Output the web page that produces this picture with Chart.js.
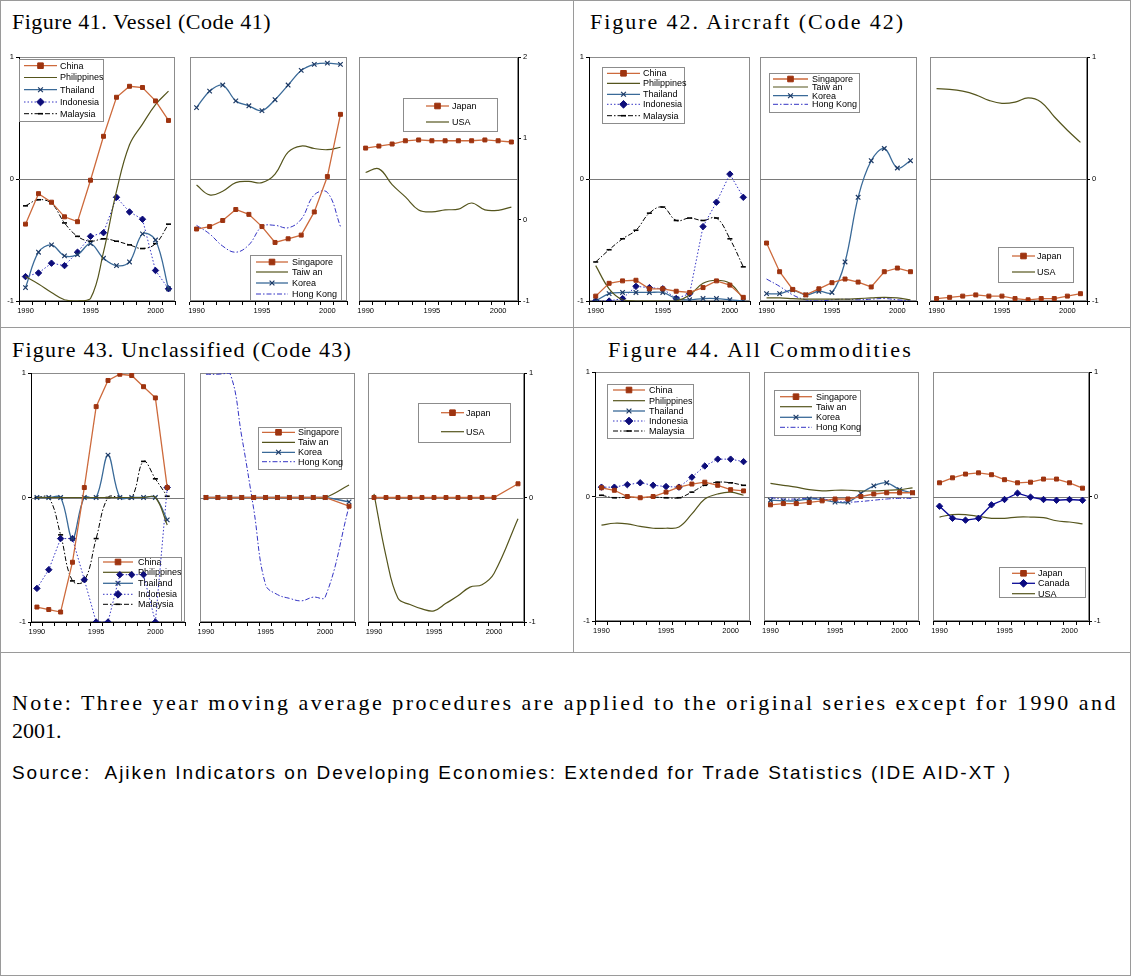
<!DOCTYPE html>
<html>
<head>
<meta charset="utf-8">
<script src="https://cdn.jsdelivr.net/npm/chart.js@4/dist/chart.umd.min.js"></script>
<style>
  html, body { margin: 0; padding: 0; background: #fff; }
  #page { position: relative; width: 1133px; height: 976px; overflow: hidden; background: #fff; }
  .rule { position: absolute; background: #9a9a9a; }
  .txt { position: absolute; white-space: nowrap; color: #000; }
  .serif { font-family: "Liberation Serif", "Times New Roman", serif; font-size: 22px; line-height: 22px; }
  .sans { font-family: "Liberation Sans", Arial, sans-serif; font-size: 19px; line-height: 19px; }
  canvas { position: absolute; }
</style>
</head>
<body>
<div id="page">
  <div class="rule" style="left:0;top:0;width:1131px;height:1px"></div>
  <div class="rule" style="left:0;top:975px;width:1131px;height:1px"></div>
  <div class="rule" style="left:0;top:0;width:1px;height:976px"></div>
  <div class="rule" style="left:1130px;top:0;width:1px;height:976px"></div>
  <div class="rule" style="left:573px;top:0;width:1px;height:652px"></div>
  <div class="rule" style="left:0;top:327px;width:1131px;height:1px"></div>
  <div class="rule" style="left:0;top:652px;width:1131px;height:1px"></div>

  <div class="txt serif" data-w="259" style="left:12px;top:11px">Figure 41. Vessel (Code 41)</div>
  <div class="txt serif" data-w="315" style="left:590px;top:11px">Figure 42. Aircraft (Code 42)</div>
  <div class="txt serif" data-w="340" style="left:12px;top:339px">Figure 43. Unclassified (Code 43)</div>
  <div class="txt serif" data-w="305" style="left:608px;top:339px">Figure 44. All Commodities</div>

  <div class="txt serif" data-w="1106" style="left:12px;top:692px">Note: Three year moving average procedures are applied to the original series except for 1990 and</div>
  <div class="txt serif" style="left:12px;top:720px">2001.</div>
  <div class="txt sans" data-w="1000" style="left:12px;top:763px">Source:&nbsp; Ajiken Indicators on Developing Economies: Extended for Trade Statistics (IDE AID-XT )</div>
</div>

<script>
// ---- categories and axis labels ----
const years = ['1990','1991','1992','1993','1994','1995','1996','1997','1998','1999','2000','2001'];
const years43 = ['1990','1991','1992','1993','1994','1995','1996','1997','1998','1999','2000','2001','2002'];
const xTickLabels = ['1990','1995','2000'];

// ---- Figure 41. Vessel (Code 41) ----
const vesselChina       = [-0.37,-0.12,-0.19,-0.31,-0.35,-0.01,0.35,0.67,0.76,0.75,0.64,0.48];
const vesselPhilippines = [-0.80,-0.86,-0.93,-0.99,-1.00,-0.98,-0.60,-0.10,0.28,0.45,0.61,0.72];
const vesselThailand    = [-0.89,-0.60,-0.54,-0.63,-0.62,-0.53,-0.65,-0.71,-0.68,-0.45,-0.50,-0.90];
const vesselIndonesia   = [-0.80,-0.77,-0.69,-0.71,-0.60,-0.47,-0.44,-0.15,-0.27,-0.33,-0.75,-0.90];
const vesselMalaysia    = [-0.22,-0.17,-0.20,-0.36,-0.47,-0.51,-0.49,-0.51,-0.54,-0.57,-0.53,-0.37];
const vesselSingapore   = [-0.41,-0.39,-0.34,-0.25,-0.29,-0.39,-0.52,-0.49,-0.46,-0.27,0.02,0.53];
const vesselTaiwan      = [-0.05,-0.13,-0.10,-0.03,-0.02,-0.03,0.04,0.22,0.27,0.25,0.24,0.26];
const vesselKorea       = [0.585,0.72,0.77,0.64,0.60,0.56,0.65,0.77,0.89,0.94,0.95,0.94];
const vesselHongKong    = [-0.38,-0.45,-0.55,-0.60,-0.54,-0.39,-0.38,-0.40,-0.33,-0.13,-0.11,-0.39];
const vesselJapan       = [0.88,0.905,0.93,0.97,0.98,0.97,0.97,0.97,0.97,0.98,0.97,0.955];
const vesselUSA         = [0.58,0.625,0.43,0.28,0.12,0.095,0.12,0.13,0.205,0.12,0.115,0.155];

// ---- Figure 42. Aircraft (Code 42) ----
const aircraftChina       = [-0.96,-0.855,-0.835,-0.83,-0.90,-0.90,-0.92,-0.93,-0.89,-0.835,-0.87,-0.97];
const aircraftPhilippines = [-0.71,-0.90,-0.99,-1.00,-1.00,-1.00,-1.00,-0.95,-0.855,-0.83,-0.855,-0.98];
const aircraftThailand    = [-1.00,-0.94,-0.93,-0.93,-0.93,-0.93,-0.98,-0.99,-0.98,-0.98,-0.99,-1.00];
const aircraftIndonesia   = [-1.00,-1.00,-0.98,-0.88,-0.89,-0.90,-0.98,-0.94,-0.39,-0.19,0.04,-0.15];
const aircraftMalaysia    = [-0.68,-0.58,-0.49,-0.42,-0.28,-0.23,-0.34,-0.32,-0.34,-0.32,-0.49,-0.72];
const aircraftSingapore   = [-0.525,-0.76,-0.905,-0.95,-0.90,-0.85,-0.82,-0.845,-0.885,-0.76,-0.73,-0.76];
const aircraftTaiwan      = [-0.975,-0.975,-0.98,-0.985,-0.985,-0.985,-0.985,-0.98,-0.975,-0.97,-0.975,-0.99];
const aircraftKorea       = [-0.94,-0.94,-0.91,-0.95,-0.92,-0.93,-0.68,-0.15,0.15,0.25,0.09,0.15];
const aircraftHongKong    = [-0.82,-0.88,-0.95,-0.99,-1.00,-0.99,-0.985,-0.99,-0.985,-0.98,-0.99,-1.00];
const aircraftJapan       = [-0.98,-0.97,-0.96,-0.95,-0.96,-0.96,-0.98,-0.99,-0.98,-0.98,-0.96,-0.94];
const aircraftUSA         = [0.74,0.735,0.72,0.69,0.645,0.62,0.63,0.665,0.63,0.51,0.40,0.30];

// ---- Figure 43. Unclassified (Code 43) ----
const unclassChina       = [-0.88,-0.90,-0.92,-0.52,0.08,0.73,0.94,0.99,0.98,0.89,0.80,0.08];
const unclassPhilippines = [0,0,0,0,0,0,0,0,0,0,0,-0.22];
const unclassThailand    = [0,0,0,-0.33,0,0,0.34,0,0,0,0,-0.18];
const unclassIndonesia   = [-0.73,-0.58,-0.33,-0.33,-0.66,-1.00,-1.00,-0.62,-0.62,-0.62,-1.00,0.08];
const unclassMalaysia    = [0,0,-0.30,-0.67,-0.67,-0.33,0,0,0,0.29,0.15,0.01];
const unclassSingapore   = [0,0,0,0,0,0,0,0,0,0,0,null,-0.07];
const unclassTaiwan      = [0,0,0,0,0,0,0,0,0,0,0,null,0.10];
const unclassKorea       = [0,0,0,0,0,0,0,0,0,0,0,null,-0.035];
const unclassHongKong    = [0.99,0.99,1.00,0.49,-0.09,-0.70,-0.78,-0.81,-0.83,-0.80,-0.80,null,-0.07];
const unclassJapan       = [0,0,0,0,0,0,0,0,0,0,0,null,0.11];
const unclassUSA         = [0.03,-0.47,-0.81,-0.86,-0.895,-0.91,-0.85,-0.79,-0.72,-0.70,-0.61,null,-0.17];

// ---- Figure 44. All Commodities ----
const allChina       = [0.07,0.05,0.0,-0.01,0.0,0.035,0.075,0.10,0.115,0.09,0.055,0.045];
const allPhilippines = [-0.23,-0.215,-0.22,-0.24,-0.255,-0.255,-0.245,-0.14,-0.02,0.02,0.035,0.01];
const allThailand    = [];
const allIndonesia   = [0.075,0.075,0.095,0.11,0.09,0.08,0.075,0.155,0.245,0.30,0.30,0.28];
const allMalaysia    = [0.01,-0.01,-0.005,-0.01,-0.005,-0.01,-0.01,0.035,0.09,0.115,0.11,0.09];
const allSingapore   = [-0.067,-0.057,-0.057,-0.048,-0.035,-0.02,-0.02,0.0,0.02,0.03,0.03,0.03];
const allTaiwan      = [0.105,0.09,0.075,0.055,0.045,0.05,0.05,0.045,0.045,0.05,0.055,0.07];
const allKorea       = [-0.03,-0.035,-0.035,-0.02,-0.025,-0.045,-0.045,0.025,0.085,0.11,0.055,0.03];
const allHongKong    = [-0.01,-0.02,-0.02,-0.015,-0.02,-0.035,-0.045,-0.04,-0.03,-0.02,-0.015,-0.015];
const allJapan       = [0.11,0.15,0.18,0.19,0.175,0.135,0.11,0.115,0.14,0.14,0.11,0.067];
const allCanada      = [-0.078,-0.175,-0.19,-0.175,-0.067,-0.024,0.027,-0.005,-0.024,-0.03,-0.024,-0.03];
const allUSA         = [-0.165,-0.145,-0.145,-0.16,-0.175,-0.175,-0.165,-0.165,-0.17,-0.195,-0.205,-0.22];

// ---- line styles per series family ----
const STYLE = {
  orange:  { borderColor:'#cd6a3c', borderWidth:1.3, pointStyle:'rect', pointRadius:2.8,
             pointBackgroundColor:'#9e3410', pointBorderColor:'#9e3410', pointBorderWidth:1, tension:0 },
  olive:   { borderColor:'#55551d', borderWidth:1.2, pointRadius:0, tension:0.4 },
  steel:   { borderColor:'#3a6a98', borderWidth:1.3, pointStyle:'crossRot', pointRadius:3.2,
             pointBackgroundColor:'#1d3a66', pointBorderColor:'#1d3a66', pointBorderWidth:1.2, tension:0.35 },
  dotted:  { borderColor:'#3434c4', borderWidth:1, borderDash:[1.5,2], pointStyle:'rectRot', pointRadius:3.2,
             pointBackgroundColor:'#0d0d7a', pointBorderColor:'#0d0d7a', pointBorderWidth:1, tension:0 },
  dashdot: { borderColor:'#000000', borderWidth:1, borderDash:[5,2,1.5,2], pointStyle:'line', pointRadius:2.5,
             pointBackgroundColor:'#000', pointBorderColor:'#000', pointBorderWidth:1.6, tension:0.4 },
  hk:      { borderColor:'#3434c4', borderWidth:1, borderDash:[5,2,1.5,2], pointRadius:0, tension:0.4 },
  navy:    { borderColor:'#0a0a96', borderWidth:1.3, pointStyle:'rectRot', pointRadius:3.2,
             pointBackgroundColor:'#0a0a80', pointBorderColor:'#0a0a80', pointBorderWidth:1, tension:0 }
};

// ---- panel layout: plot rectangle [left, top, right, bottom] in page pixels ----
const PANELS = [
  { plot:[19,57,175,301], axis:'left', min:-1, max:1, ref:0, cats:years,
    series:[['China',vesselChina,'orange'],['Philippines',vesselPhilippines,'olive'],['Thailand',vesselThailand,'steel'],
            ['Indonesia',vesselIndonesia,'dotted'],['Malaysia',vesselMalaysia,'dashdot']],
    legend:{ box:[19,59,85,63], rows:[65.7,77.5,89.7,102,113.7], sx:[24,57], tx:60 } },
  { plot:[190,57,347,301], axis:'none', min:-1, max:1, ref:0, cats:years,
    series:[['Singapore',vesselSingapore,'orange'],['Taiw an',vesselTaiwan,'olive'],['Korea',vesselKorea,'steel'],
            ['Hong Kong',vesselHongKong,'hk']],
    legend:{ box:[250,255,92,46], rows:[262,272,283,294], sx:[256,288], tx:292 } },
  { plot:[359,57,518,301], axis:'right', min:-1, max:2, ref:0.5, cats:years,
    series:[['Japan',vesselJapan,'orange'],['USA',vesselUSA,'olive']],
    legend:{ box:[403,98,95,34], rows:[106,122], sx:[426,449], tx:452 } },

  { plot:[589,57,750,301], axis:'left', min:-1, max:1, ref:0, cats:years,
    series:[['China',aircraftChina,'orange'],['Philippines',aircraftPhilippines,'olive'],['Thailand',aircraftThailand,'steel'],
            ['Indonesia',aircraftIndonesia,'dotted'],['Malaysia',aircraftMalaysia,'dashdot']],
    legend:{ box:[602,67,83,57], rows:[73.3,83.3,94.3,104.3,115.7], sx:[607,640], tx:643 } },
  { plot:[760,57,917,301], axis:'none', min:-1, max:1, ref:0, cats:years,
    series:[['Singapore',aircraftSingapore,'orange'],['Taiw an',aircraftTaiwan,'olive'],['Korea',aircraftKorea,'steel'],
            ['Hong Kong',aircraftHongKong,'hk']],
    legend:{ box:[769,73,91,40], rows:[79,87,95.7,104.3], sx:[773,808], tx:812 } },
  { plot:[930,57,1087,301], axis:'right', min:-1, max:1, ref:0, cats:years,
    series:[['Japan',aircraftJapan,'orange'],['USA',aircraftUSA,'olive']],
    legend:{ box:[998,247,76,36], rows:[256,272], sx:[1012,1035], tx:1037 } },

  { plot:[31,373,185,622], axis:'left', min:-1, max:1, ref:0, cats:years43,
    series:[['China',unclassChina,'orange'],['Philippines',unclassPhilippines,'olive'],['Thailand',unclassThailand,'steel'],
            ['Indonesia',unclassIndonesia,'dotted'],['Malaysia',unclassMalaysia,'dashdot']],
    legend:{ box:[98,557,84,65], rows:[562,572.3,583.3,594.3,604.3], sx:[103,133], tx:138 } },
  { plot:[200,373,355,622], axis:'none', min:-1, max:1, ref:0, cats:years43,
    series:[['Singapore',unclassSingapore,'orange'],['Taiw an',unclassTaiwan,'olive'],['Korea',unclassKorea,'steel'],
            ['Hong Kong',unclassHongKong,'hk']],
    legend:{ box:[258,427,84,43], rows:[432.3,442.3,452.3,461.7], sx:[262,295], tx:298 } },
  { plot:[368,373,524,622], axis:'right', min:-1, max:1, ref:0, cats:years43,
    series:[['Japan',unclassJapan,'orange'],['USA',unclassUSA,'olive']],
    legend:{ box:[418,403,93,40], rows:[412.7,431.7], sx:[441,464], tx:466 } },

  { plot:[595,372,750,621], axis:'left', min:-1, max:1, ref:0, cats:years,
    series:[['China',allChina,'orange'],['Philippines',allPhilippines,'olive'],['Thailand',allThailand,'steel'],
            ['Indonesia',allIndonesia,'dotted'],['Malaysia',allMalaysia,'dashdot']],
    legend:{ box:[607,384,87,55], rows:[390,400.7,411,421,431], sx:[613,645], tx:649 } },
  { plot:[764,372,919,621], axis:'none', min:-1, max:1, ref:0, cats:years,
    series:[['Singapore',allSingapore,'orange'],['Taiw an',allTaiwan,'olive'],['Korea',allKorea,'steel'],
            ['Hong Kong',allHongKong,'hk']],
    legend:{ box:[774,390,87,46], rows:[396.7,406.7,417.3,427.3], sx:[780,812], tx:816 } },
  { plot:[933,372,1089,621], axis:'right', min:-1, max:1, ref:0, cats:years,
    series:[['Japan',allJapan,'orange'],['Canada',allCanada,'navy'],['USA',allUSA,'olive']],
    legend:{ box:[999,567,87,31], rows:[573.3,583.3,593.7], sx:[1012,1035], tx:1038 } }
];

const TICK_FONT = { family: '"Liberation Sans", Arial, sans-serif', size: 7.5 };
const LEGEND_FONT = '9px "Liberation Sans", Arial, sans-serif';
const PAD_X = 30, PAD_TOP = 10, AXIS_H = 25;

// marker drawing used by the in-plot legends
function drawMarker(ctx, ds, x, y) {
  const r = ds.pointRadius || 0;
  if (!r) return;
  ctx.save();
  ctx.setLineDash([]);
  ctx.fillStyle = ds.pointBackgroundColor || ds.borderColor;
  ctx.strokeStyle = ds.pointBorderColor || ds.borderColor;
  ctx.lineWidth = ds.pointBorderWidth || 1;
  ctx.beginPath();
  switch (ds.pointStyle) {
    case 'rect':
      ctx.rect(x - r, y - r, 2 * r, 2 * r); ctx.fill(); ctx.stroke(); break;
    case 'rectRot':
      ctx.moveTo(x, y - r * 1.2); ctx.lineTo(x + r * 1.2, y); ctx.lineTo(x, y + r * 1.2); ctx.lineTo(x - r * 1.2, y);
      ctx.closePath(); ctx.fill(); ctx.stroke(); break;
    case 'crossRot':
      ctx.moveTo(x - r * 0.75, y - r * 0.75); ctx.lineTo(x + r * 0.75, y + r * 0.75);
      ctx.moveTo(x + r * 0.75, y - r * 0.75); ctx.lineTo(x - r * 0.75, y + r * 0.75); ctx.stroke(); break;
    case 'line':
      ctx.moveTo(x - r, y); ctx.lineTo(x + r, y); ctx.stroke(); break;
  }
  ctx.restore();
}

function panelPlugin(panel, ox, oy) {
  return {
    id: 'panelDecor',
    beforeDraw(chart) {
      const { ctx, chartArea: a } = chart;
      ctx.save();
      ctx.strokeStyle = '#8c8c8c';
      ctx.lineWidth = 1;
      ctx.strokeRect(Math.round(a.left) + 0.5, Math.round(a.top) + 0.5,
                     Math.round(a.right - a.left) - 1, Math.round(a.bottom - a.top) - 1);
      ctx.restore();
    },
    beforeDatasetsDraw(chart) {
      const { ctx, chartArea: a } = chart;
      const yScale = chart.scales.y;
      // reference line across the plot
      const yr = Math.round(yScale.getPixelForValue(panel.ref)) + 0.5;
      ctx.save();
      ctx.strokeStyle = '#7a7a7a';
      ctx.lineWidth = 1;
      ctx.beginPath(); ctx.moveTo(a.left, yr); ctx.lineTo(a.right, yr); ctx.stroke();
      // legend box inside the plot
      const L = panel.legend;
      const [bx, by, bw, bh] = L.box;
      ctx.fillStyle = '#ffffff';
      ctx.fillRect(bx - ox, by - oy, bw, bh);
      ctx.strokeStyle = '#8c8c8c';
      ctx.strokeRect(bx - ox + 0.5, by - oy + 0.5, bw - 1, bh - 1);
      chart.data.datasets.forEach((ds, i) => {
        const y = L.rows[i] - oy;
        ctx.save();
        ctx.strokeStyle = ds.borderColor;
        ctx.lineWidth = ds.borderWidth;
        ctx.setLineDash(ds.borderDash || []);
        ctx.beginPath(); ctx.moveTo(L.sx[0] - ox, y); ctx.lineTo(L.sx[1] - ox, y); ctx.stroke();
        ctx.restore();
        drawMarker(ctx, ds, (L.sx[0] + L.sx[1]) / 2 - ox, y);
        ctx.fillStyle = '#000';
        ctx.font = LEGEND_FONT;
        ctx.textBaseline = 'middle';
        ctx.textAlign = 'left';
        ctx.fillText(ds.label, L.tx - ox, y + 0.5);
      });
      ctx.restore();
    }
  };
}

const page = document.getElementById('page');
PANELS.forEach((panel) => {
  const [L, T, R, B] = panel.plot;
  const ox = L - PAD_X, oy = T - PAD_TOP;
  const w = (R - L) + 2 * PAD_X, h = (B - T) + PAD_TOP + AXIS_H;
  const cv = document.createElement('canvas');
  cv.width = w; cv.height = h;
  cv.style.left = ox + 'px'; cv.style.top = oy + 'px';
  cv.style.width = w + 'px'; cv.style.height = h + 'px';
  page.appendChild(cv);

  const datasets = panel.series.map(([label, data, key]) => Object.assign(
    { label, data, spanGaps: true, fill: false, pointHoverRadius: 0 }, STYLE[key]));

  const showY = panel.axis !== 'none';
  new Chart(cv.getContext('2d'), {
    type: 'line',
    data: { labels: panel.cats, datasets },
    options: {
      responsive: false, animation: false, devicePixelRatio: 1, events: [],
      layout: { padding: {
        top: PAD_TOP, bottom: 0,
        left: panel.axis === 'left' ? 0 : PAD_X,
        right: panel.axis === 'right' ? 0 : PAD_X } },
      plugins: { legend: { display: false }, tooltip: { enabled: false }, title: { display: false } },
      scales: {
        x: {
          type: 'category', offset: true,
          grid: { display: true, offset: true, drawOnChartArea: false, drawTicks: true, tickLength: 4, color: '#000', lineWidth: 1 },
          border: { display: true, color: '#000', width: 1 },
          ticks: { autoSkip: false, maxRotation: 0, minRotation: 0, padding: 1, color: '#000', font: TICK_FONT,
                   callback(v) { const lab = this.getLabelForValue(v); return xTickLabels.includes(lab) ? lab : ''; } },
          afterFit(s) { s.height = AXIS_H; }
        },
        y: {
          display: showY, position: panel.axis === 'right' ? 'right' : 'left',
          min: panel.min, max: panel.max,
          grid: { display: true, drawOnChartArea: false, drawTicks: true, tickLength: 3, color: '#000', lineWidth: 1 },
          border: { display: true, color: '#000', width: 1 },
          ticks: { stepSize: 1, padding: 2, color: '#000', font: TICK_FONT },
          afterFit(s) { s.width = showY ? PAD_X : 0; }
        }
      }
    },
    plugins: [panelPlugin(panel, ox, oy)]
  });
});

// stretch headline and note lines to their set widths
document.querySelectorAll('[data-w]').forEach(el => {
  const target = +el.dataset.w;
  const natural = el.getBoundingClientRect().width;
  const n = el.textContent.length;
  el.style.letterSpacing = ((target - natural) / n).toFixed(3) + 'px';
});
</script>
</body>
</html>
